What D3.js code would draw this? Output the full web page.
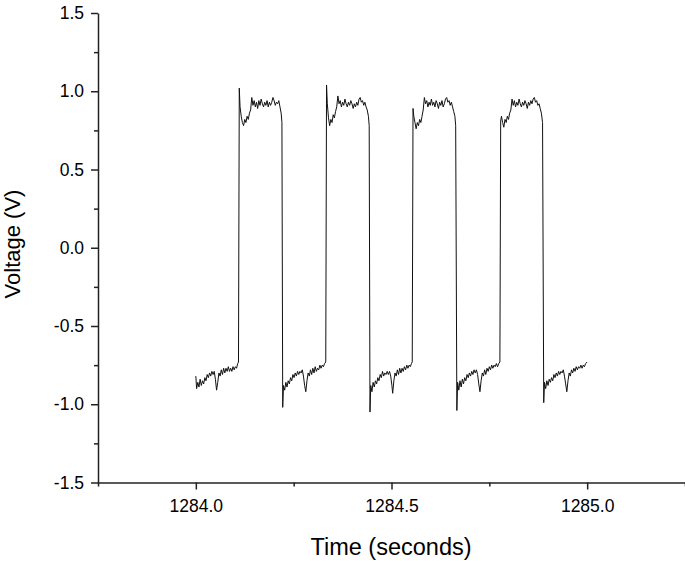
<!DOCTYPE html>
<html>
<head>
<meta charset="utf-8">
<script src="https://cdn.jsdelivr.net/npm/d3@7"></script>
<style>
  body { margin: 0; background: #fff; }
  svg { display: block; }
  text { font-family: Arial, "Liberation Sans", sans-serif; fill: #000; }
</style>
</head>
<body>
<svg id="chart" width="685" height="561"></svg>
<script>
// time (s) and voltage (V)
var timeS = [
  1284.000,1284.002,1284.005,1284.008,1284.011,1284.014,1284.017,1284.020,1284.023,1284.026,
  1284.029,1284.032,1284.035,1284.038,1284.041,1284.044,1284.047,1284.050,1284.053,1284.056,
  1284.059,1284.062,1284.065,1284.068,1284.071,1284.074,1284.077,1284.080,1284.083,1284.086,
  1284.089,1284.092,1284.095,1284.098,1284.101,1284.104,1284.107,1284.109,
  1284.111,1284.113,1284.116,1284.119,1284.122,1284.125,1284.128,1284.131,1284.134,1284.137,
  1284.140,1284.143,1284.146,1284.149,1284.152,1284.155,1284.158,1284.161,1284.164,1284.167,
  1284.170,1284.173,1284.176,1284.179,1284.182,1284.185,1284.188,1284.191,1284.194,1284.197,
  1284.200,1284.203,1284.206,1284.209,1284.212,1284.215,1284.218,1284.220,
  1284.222,1284.224,1284.227,1284.230,1284.233,1284.236,1284.239,1284.242,1284.245,1284.248,
  1284.251,1284.254,1284.257,1284.260,1284.263,1284.266,1284.269,1284.272,1284.275,1284.278,
  1284.281,1284.284,1284.287,1284.290,1284.293,1284.296,1284.299,1284.302,1284.305,1284.308,
  1284.311,1284.314,1284.317,1284.320,1284.323,1284.326,1284.329,1284.332,
  1284.334,1284.336,1284.339,1284.342,1284.345,1284.348,1284.351,1284.354,1284.357,1284.360,
  1284.363,1284.366,1284.369,1284.372,1284.375,1284.378,1284.381,1284.384,1284.387,1284.390,
  1284.393,1284.396,1284.399,1284.402,1284.405,1284.408,1284.411,1284.414,1284.417,1284.420,
  1284.423,1284.426,1284.429,1284.432,1284.435,1284.438,1284.441,1284.443,
  1284.445,1284.447,1284.450,1284.453,1284.456,1284.459,1284.462,1284.465,1284.468,1284.471,
  1284.474,1284.477,1284.480,1284.483,1284.486,1284.489,1284.492,1284.495,1284.498,1284.501,
  1284.503,1284.506,1284.509,1284.512,1284.515,1284.518,1284.521,1284.524,1284.527,1284.530,
  1284.533,1284.536,1284.539,1284.542,1284.545,1284.548,1284.551,1284.553,
  1284.555,1284.557,1284.560,1284.563,1284.566,1284.569,1284.572,1284.575,1284.578,1284.581,
  1284.584,1284.587,1284.590,1284.593,1284.596,1284.599,1284.602,1284.605,1284.608,1284.611,
  1284.614,1284.617,1284.620,1284.623,1284.626,1284.629,1284.632,1284.635,1284.638,1284.641,
  1284.644,1284.647,1284.650,1284.653,1284.656,1284.659,1284.662,1284.664,
  1284.667,1284.669,1284.672,1284.675,1284.678,1284.681,1284.684,1284.687,1284.690,1284.693,
  1284.696,1284.699,1284.702,1284.705,1284.708,1284.711,1284.714,1284.717,1284.720,1284.723,
  1284.726,1284.729,1284.732,1284.735,1284.738,1284.741,1284.744,1284.747,1284.750,1284.753,
  1284.756,1284.759,1284.762,1284.765,1284.768,1284.771,1284.774,1284.777,
  1284.779,1284.781,1284.784,1284.787,1284.790,1284.793,1284.796,1284.799,1284.802,1284.805,
  1284.808,1284.811,1284.814,1284.817,1284.820,1284.823,1284.826,1284.829,1284.832,1284.835,
  1284.838,1284.841,1284.844,1284.847,1284.850,1284.853,1284.856,1284.859,1284.862,1284.865,
  1284.868,1284.871,1284.874,1284.877,1284.880,1284.883,1284.886,
  1284.889,1284.891,1284.894,1284.897,1284.900,1284.903,1284.906,1284.909,1284.912,1284.915,
  1284.918,1284.921,1284.924,1284.927,1284.930,1284.933,1284.936,1284.939,1284.942,1284.945,
  1284.948,1284.951,1284.954,1284.957,1284.960,1284.963,1284.966,1284.969,1284.972,1284.975,
  1284.978,1284.981,1284.984,1284.987,1284.990,1284.993,1284.996,1285.000
];
var voltageV = [
  -0.82,-0.90,-0.86,-0.89,-0.84,-0.88,-0.85,-0.87,-0.83,-0.85,
  -0.81,-0.83,-0.80,-0.82,-0.79,-0.81,-0.79,-0.84,-0.91,-0.86,
  -0.80,-0.82,-0.78,-0.81,-0.77,-0.80,-0.77,-0.79,-0.76,-0.79,
  -0.77,-0.79,-0.76,-0.78,-0.76,-0.77,-0.74,-0.73,
  1.02,0.90,0.84,0.80,0.78,0.82,0.80,0.84,0.82,0.86,
  0.88,0.96,0.91,0.94,0.90,0.93,0.89,0.94,0.91,0.95,
  0.92,0.90,0.93,0.91,0.94,0.90,0.93,0.91,0.93,0.96,
  0.94,0.91,0.93,0.92,0.94,0.90,0.86,0.80,
  -1.02,-0.88,-0.91,-0.86,-0.89,-0.85,-0.87,-0.83,-0.85,-0.81,
  -0.83,-0.80,-0.82,-0.79,-0.81,-0.79,-0.80,-0.78,-0.82,-0.88,
  -0.92,-0.85,-0.80,-0.82,-0.78,-0.81,-0.77,-0.80,-0.76,-0.79,
  -0.77,-0.78,-0.75,-0.77,-0.75,-0.76,-0.74,-0.73,
  1.04,0.92,0.83,0.78,0.82,0.80,0.85,0.83,0.87,0.90,
  0.97,0.92,0.94,0.90,0.93,0.91,0.95,0.92,0.90,0.93,
  0.91,0.94,0.92,0.89,0.92,0.90,0.93,0.91,0.95,0.96,
  0.93,0.94,0.91,0.93,0.90,0.88,0.84,0.78,
  -1.05,-0.88,-0.92,-0.86,-0.89,-0.85,-0.87,-0.83,-0.85,-0.81,
  -0.83,-0.79,-0.82,-0.80,-0.81,-0.79,-0.81,-0.79,-0.82,-0.88,
  -0.93,-0.85,-0.80,-0.82,-0.78,-0.81,-0.77,-0.80,-0.77,-0.79,
  -0.76,-0.78,-0.75,-0.77,-0.75,-0.76,-0.74,-0.73,
  0.89,0.84,0.80,0.76,0.80,0.78,0.82,0.80,0.84,0.88,
  0.96,0.92,0.94,0.90,0.93,0.91,0.95,0.91,0.93,0.90,
  0.94,0.92,0.89,0.93,0.91,0.94,0.90,0.92,0.95,0.96,
  0.93,0.94,0.91,0.93,0.90,0.87,0.84,0.78,
  -1.04,-0.86,-0.91,-0.85,-0.89,-0.84,-0.87,-0.83,-0.85,-0.81,
  -0.83,-0.80,-0.82,-0.79,-0.81,-0.78,-0.80,-0.78,-0.81,-0.87,
  -0.92,-0.85,-0.80,-0.82,-0.78,-0.81,-0.77,-0.79,-0.76,-0.78,
  -0.75,-0.77,-0.75,-0.76,-0.74,-0.76,-0.74,-0.73,
  0.81,0.84,0.80,0.77,0.82,0.80,0.84,0.82,0.86,0.88,
  0.95,0.91,0.94,0.90,0.93,0.91,0.95,0.92,0.90,0.93,
  0.91,0.94,0.92,0.89,0.93,0.91,0.94,0.92,0.95,0.96,
  0.93,0.94,0.91,0.92,0.89,0.86,0.80,
  -0.99,-0.86,-0.90,-0.85,-0.88,-0.84,-0.86,-0.83,-0.85,-0.81,
  -0.83,-0.80,-0.82,-0.79,-0.81,-0.79,-0.80,-0.78,-0.82,-0.87,
  -0.92,-0.85,-0.80,-0.82,-0.78,-0.80,-0.77,-0.79,-0.76,-0.78,
  -0.76,-0.77,-0.75,-0.77,-0.75,-0.76,-0.74,-0.73
];

var xMajorTicks = [1284.0, 1284.5, 1285.0];
var xMinorTicks = [1283.75, 1284.25, 1284.75, 1285.25];
var yMajorTicks = [-1.5, -1.0, -0.5, 0.0, 0.5, 1.0, 1.5];
var yMinorTicks = [-1.25, -0.75, -0.25, 0.25, 0.75, 1.25];
var xTitle = "Time (seconds)";
var yTitle = "Voltage (V)";

var svg = d3.select("#chart");

var x = d3.scaleLinear().domain([1283.75, 1285.25]).range([98, 685]);
var y = d3.scaleLinear().domain([-1.5, 1.5]).range([482.5, 13]);

// plain hyphen for negatives, like the original
var fmt = function(d){ return d3.format(".1f")(d).replace("\u2212", "-"); };

var points = timeS.map(function(t, i){ return [t, voltageV[i]]; });

// minor ticks first, no labels
svg.append("g")
  .attr("transform", "translate(0,482.5)")
  .call(d3.axisBottom(x).tickValues(xMinorTicks).tickSize(4).tickFormat(""))
  .call(function(g){ g.select(".domain").remove(); });
svg.append("g")
  .attr("transform", "translate(98,0)")
  .call(d3.axisLeft(y).tickValues(yMinorTicks).tickSize(4).tickFormat(""))
  .call(function(g){ g.select(".domain").remove(); });

svg.append("g")
  .attr("transform", "translate(0,482.5)")
  .call(d3.axisBottom(x).tickValues(xMajorTicks).tickSize(7).tickSizeOuter(0)
    .tickPadding(10).tickFormat(fmt));
svg.append("g")
  .attr("transform", "translate(98,0)")
  .call(d3.axisLeft(y).tickValues(yMajorTicks).tickSize(7).tickSizeOuter(0)
    .tickPadding(7).tickFormat(fmt));

svg.selectAll(".tick line").attr("stroke", "#222").attr("stroke-width", 1.5);
svg.selectAll(".domain").attr("stroke", "#222").attr("stroke-width", 1.5);
svg.selectAll(".tick text")
  .attr("font-size", 17.5)
  .attr("font-family", "Arial, 'Liberation Sans', sans-serif");

svg.append("path")
  .datum(points)
  .attr("fill", "none")
  .attr("stroke", "#111")
  .attr("stroke-width", 1)
  .attr("d", d3.line().x(function(d){ return x(d[0]); }).y(function(d){ return y(d[1]); }));

svg.append("text")
  .attr("x", 391)
  .attr("y", 555)
  .attr("text-anchor", "middle")
  .attr("font-size", 23.5)
  .text(xTitle);

svg.append("text")
  .attr("transform", "translate(20,244) rotate(-90)")
  .attr("text-anchor", "middle")
  .attr("font-size", 22)
  .text(yTitle);
</script>
</body>
</html>
